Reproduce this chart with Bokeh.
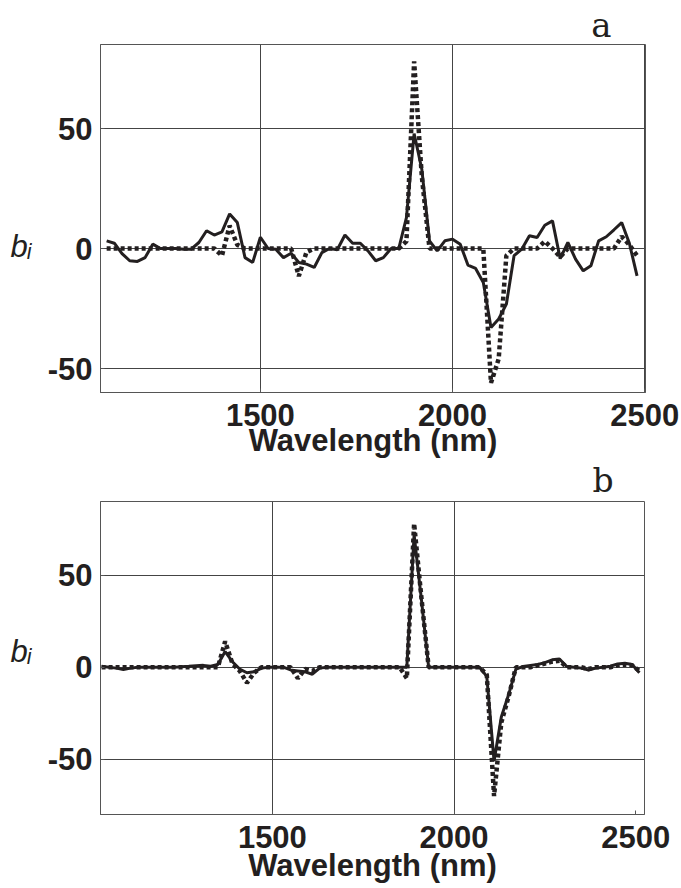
from bokeh.plotting import figure
from bokeh.layouts import column
from bokeh.models import FixedTicker, Range1d, Title
from bokeh.embed import file_html
from bokeh.resources import INLINE

# ---------------- data: panel a ----------------
wl_a = [1100, 1120, 1140, 1160, 1180, 1200, 1220, 1240, 1260, 1280,
        1300, 1320, 1340, 1360, 1380, 1400, 1420, 1440, 1460, 1480,
        1500, 1520, 1540, 1560, 1580, 1600, 1620, 1640, 1660, 1680,
        1700, 1720, 1740, 1760, 1780, 1800, 1820, 1840, 1860, 1880,
        1900, 1920, 1940, 1960, 1980, 2000, 2020, 2040, 2060, 2080,
        2100, 2120, 2140, 2160, 2180, 2200, 2220, 2240, 2260, 2280,
        2300, 2320, 2340, 2360, 2380, 2400, 2420, 2440, 2460, 2480]
solid_a = [3.2, 2.2, -2.1, -5.1, -5.4, -3.8, 1.8, 0, 0, 0,
           -0.3, -0.3, 2.5, 7.4, 5.6, 6.9, 14.4, 10.8, -3.8, -5.8,
           4.7, 0, -0.3, -3.8, -2.0, -5.8, -6.5, -7.9, -1.7, 0,
           -0.5, 5.6, 2.2, 2.2, -1.0, -5.1, -3.8, 0, 0, 12.9,
           47.9, 33.0, 3.2, -1.0, 3.2, 3.9, 1.8, -6.9, -8.3, -14.2,
           -32.9, -29.4, -23.2, -3.0, -0.3, 5.3, 4.6, 9.7, 11.5, -4.2,
           2.5, -4.4, -9.3, -7.2, 3.2, 4.9, 7.8, 10.8, 2.2, -11.4]
dotted_a = [0, 0, 0, 0, 0, 0, 0, 0, 0, 0,
            0, 0, 0, 0, 0, -3.0, 9.5, 1.5, 0, 0,
            0, 0, 0, 0, 0, -11.5, -1.5, 0, 0, 0,
            0, 0, 0, 0, 0, 0, 0, 0, 0, 3.0,
            78.0, 30.0, 0, 0, 0, 0, 0, 0, 0, 0,
            -56.0, -46.0, -3.0, 0, 0, 0, 0, 3.0, 0, -3.5,
            0, 0, 0, 0, 0, 0, 0, 5.0, 1.5, -3.0]

# ---------------- data: panel b ----------------
wl_b = [1030, 1050, 1070, 1090, 1110, 1130, 1150, 1170, 1190, 1210,
        1230, 1250, 1270, 1290, 1310, 1330, 1350, 1370, 1390, 1410,
        1430, 1450, 1470, 1490, 1510, 1530, 1550, 1570, 1590, 1610,
        1630, 1650, 1670, 1690, 1710, 1730, 1750, 1770, 1790, 1810,
        1830, 1850, 1870, 1890, 1910, 1930, 1950, 1970, 1990, 2010,
        2030, 2050, 2070, 2090, 2110, 2130, 2150, 2170, 2190, 2210,
        2230, 2250, 2270, 2290, 2310, 2330, 2350, 2370, 2390, 2410,
        2430, 2450, 2470, 2490, 2510]
solid_b = [0.5, 0, -0.5, -1.2, -0.5, 0, 0, 0, 0, 0,
           0, 0.3, 0.5, 0.8, 1.0, 0.5, 1.5, 8.5, 3.0, -1.0,
           -3.0, -2.5, -0.5, 0, 0, 0, -1.5, -2.0, -2.5, -3.8,
           -0.5, 0, 0, 0, 0, 0, 0, 0, 0, 0,
           0, 0, 0, 72.0, 37.0, 0, 0, 0, 0, 0,
           0, 0, 0, -5.0, -51.0, -27.0, -15.0, -1.0, 0.4, 1.0,
           1.5, 2.5, 4.0, 4.5, 0.4, 0, -0.5, -1.5, -0.5, 0,
           0.5, 1.8, 2.2, 1.5, -3.0]
dotted_b = [0, 0, 0, 0, 0, 0, 0, 0, 0, 0,
            0, 0, 0, 0, 0, 0, 0, 14.0, 2.0, -2.0,
            -8.5, -3.0, 0, 0, 0, 0, 0, -6.0, -1.0, -2.0,
            0, 0, 0, 0, 0, 0, 0, 0, 0, 0,
            0, 0, -6.0, 78.0, 38.0, 0, 0, 0, 0, 0,
            0, 0, 0, -4.0, -70.0, -30.0, -16.0, 0, 0, 0,
            1.0, 2.0, 3.0, 3.5, 0, 0, 0, -1.0, 0, 0,
            0, 1.0, 1.5, 1.0, -2.0]

x_ticks = [1500, 2000, 2500]
y_ticks = [-50, 0, 50]
y_tick_text = {-50: "-50", 0: "0", 50: "50"}
x_label = "Wavelength (nm)"
y_label = "b\u1d62"

INK = "#231f20"


def panel(wl, solid, dotted, xr, yr, fw, fh, bt, letter, letter_valign,
          letter_size, letter_offset, grid_x, xlab_standoff, ylab_text,
          ylab_lh):
    p = figure(frame_width=fw, frame_height=fh,
               x_range=Range1d(*xr), y_range=Range1d(*yr),
               output_backend="svg", toolbar_location=None,
               min_border_left=100, min_border_right=680 - 100 - fw,
               min_border_top=bt, min_border_bottom=40,
               background_fill_color="white", border_fill_color="white")
    p.outline_line_color = "#555555"
    p.outline_line_width = 1
    for ax in (p.xaxis, p.yaxis):
        ax.major_label_text_font = "Liberation Sans"
        ax.major_label_text_font_style = "bold"
        ax.major_label_text_font_size = "31px"
        ax.major_label_text_color = INK
        ax.major_tick_in = 4
        ax.major_tick_out = 0
        ax.major_tick_line_color = "#555555"
        ax.minor_tick_line_color = None
        ax.axis_line_color = "#555555"
    p.xaxis.major_label_standoff = 11
    p.yaxis.major_label_standoff = 8
    p.xaxis.ticker = FixedTicker(ticks=x_ticks)
    p.yaxis.ticker = FixedTicker(ticks=y_ticks)
    p.yaxis.major_label_overrides = y_tick_text
    p.xgrid.ticker = FixedTicker(ticks=grid_x)
    p.xgrid.grid_line_color = "#444444"
    p.ygrid.grid_line_color = "#444444"

    # x-axis title
    p.xaxis.axis_label = x_label
    p.xaxis.axis_label_text_font = "Liberation Sans"
    p.xaxis.axis_label_text_font_style = "bold"
    p.xaxis.axis_label_text_font_size = "31px"
    p.xaxis.axis_label_text_color = INK
    p.xaxis.axis_label_standoff = xlab_standoff

    # y-axis title, horizontal
    p.yaxis.axis_label = ylab_text
    p.yaxis.axis_label_text_font = "Liberation Sans"
    p.yaxis.axis_label_text_font_style = "italic"
    p.yaxis.axis_label_text_font_size = "31px"
    p.yaxis.axis_label_text_color = INK
    p.yaxis.axis_label_text_line_height = ylab_lh
    p.yaxis.axis_label_standoff = 13
    yax = p.yaxis[0]
    if "axis_label_orientation" in yax.properties():
        yax.axis_label_orientation = "horizontal"

    # panel letter
    p.add_layout(Title(text=letter, align="right", offset=letter_offset,
                       vertical_align=letter_valign, standoff=0,
                       text_font="DejaVu Serif", text_font_size=letter_size,
                       text_font_style="normal", text_color=INK), "above")

    p.line(wl, solid, line_color=INK, line_width=3)
    p.line(wl, dotted, line_color=INK, line_width=4.5, line_dash="4 3")
    return p


pa = panel(wl_a, solid_a, dotted_a, (1084, 2502), (-60, 85), 545, 348, 44,
           "a", "bottom", "34px", 34, [1500, 2000, 2500], -6,
           "\n" + y_label, 1.6)
pb = panel(wl_b, solid_b, dotted_b, (1027, 2524), (-80, 90), 544, 313, 20,
           "b", "top", "33px", 31, [1500, 2000], -3,
           y_label + "\n", 0.37)

layout = column(pa, pb, spacing=0)
open("out.html", "w").write(file_html(layout, INLINE))
